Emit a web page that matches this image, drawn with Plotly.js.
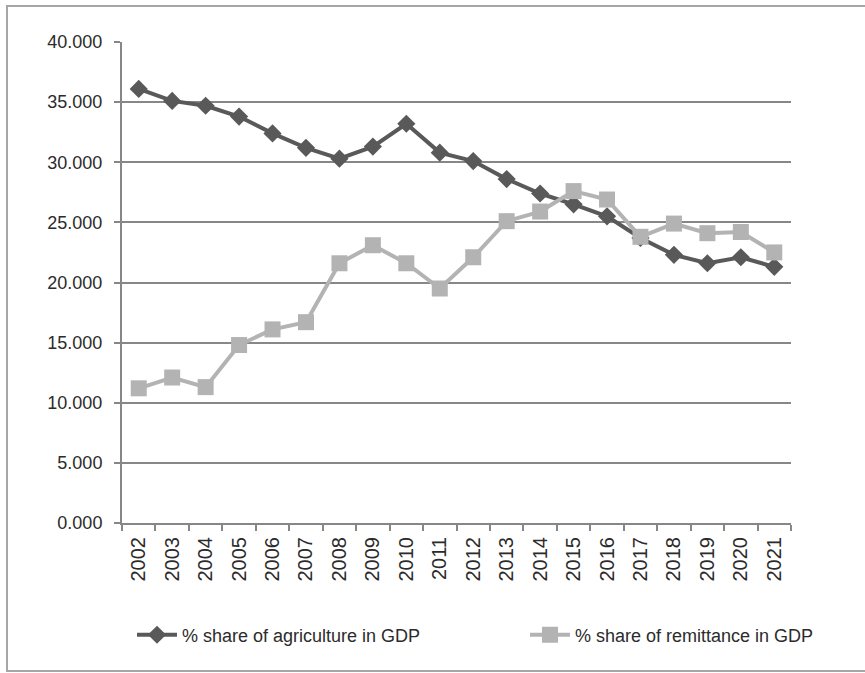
<!DOCTYPE html>
<html>
<head>
<meta charset="utf-8">
<script src="https://cdn.plot.ly/plotly-3.0.1.min.js"></script>
<style>
  html, body { margin: 0; padding: 0; background: #ffffff; }
  #chart { width: 865px; height: 673px; }
</style>
</head>
<body>
<div id="chart"></div>
<script>
const years = ["2002","2003","2004","2005","2006","2007","2008","2009","2010","2011",
               "2012","2013","2014","2015","2016","2017","2018","2019","2020","2021"];
const agricultureShare = [36.1, 35.1, 34.7, 33.8, 32.4, 31.2, 30.3, 31.3, 33.2, 30.8,
                          30.1, 28.6, 27.4, 26.5, 25.5, 23.7, 22.3, 21.6, 22.1, 21.3];
const remittanceShare = [11.2, 12.1, 11.3, 14.8, 16.1, 16.7, 21.6, 23.1, 21.6, 19.5,
                         22.1, 25.1, 25.9, 27.6, 26.9, 23.8, 24.9, 24.1, 24.2, 22.5];
const seriesNames = ["% share of agriculture in GDP", "% share of remittance in GDP"];
const yTickValues = [0, 5, 10, 15, 20, 25, 30, 35, 40];

const FONT = "'Liberation Sans', Arial, sans-serif";
const gridColor = "#878787";
const textColor = "#2b2b2b";

const traces = [
  {
    x: years, y: agricultureShare, name: seriesNames[0],
    type: "scatter", mode: "lines+markers", legend: "legend", cliponaxis: false,
    line: { color: "#595959", width: 4 },
    marker: { symbol: "diamond", size: 14, color: "#595959" }
  },
  {
    x: years, y: remittanceShare, name: seriesNames[1],
    type: "scatter", mode: "lines+markers", legend: "legend2", cliponaxis: false,
    line: { color: "#B3B3B3", width: 4 },
    marker: { symbol: "square", size: 16, color: "#B3B3B3" }
  }
];

const legendCommon = {
  orientation: "h", xanchor: "left", y: -0.233, yanchor: "middle",
  font: { family: FONT, size: 18, color: textColor },
  itemwidth: 40, bgcolor: "rgba(0,0,0,0)"
};

const layout = {
  width: 865, height: 673,
  margin: { l: 122, r: 74, t: 42, b: 150 },
  paper_bgcolor: "#ffffff", plot_bgcolor: "#ffffff",
  font: { family: FONT, size: 18, color: textColor },
  showlegend: true,
  legend: Object.assign({}, legendCommon, { x: (132 - 122) / 669 }),
  legend2: Object.assign({}, legendCommon, { x: (525 - 122) / 669 }),
  xaxis: {
    type: "category", categoryorder: "array", categoryarray: years,
    range: [-0.5, years.length - 0.5], autorange: false,
    tickangle: -90, tickson: "boundaries",
    ticks: "outside", ticklen: 6, tickwidth: 2, tickcolor: gridColor,
    showline: true, linecolor: gridColor, linewidth: 2,
    showgrid: false, zeroline: false,
    tickfont: { family: FONT, size: 20, color: textColor },
    ticklabelstandoff: 4
  },
  yaxis: {
    range: [0, 40], autorange: false, tickvals: yTickValues, tickformat: ".3f",
    ticks: "outside", ticklen: 6, tickwidth: 2, tickcolor: gridColor,
    showline: true, linecolor: gridColor, linewidth: 2,
    showgrid: true, gridcolor: gridColor, gridwidth: 2,
    zeroline: false,
    tickfont: { family: FONT, size: 18, color: textColor },
    ticklabelstandoff: 8
  },
  shapes: [
    {
      type: "rect", xref: "paper", yref: "paper", layer: "above",
      x0: (7 - 122) / 669, x1: (880 - 122) / 669,
      y0: (523 - 671) / 481, y1: (523 - 6) / 481,
      line: { color: "#A6A6A6", width: 2 }, fillcolor: "rgba(0,0,0,0)"
    }
  ]
};

Plotly.newPlot("chart", traces, layout, { displayModeBar: false, staticPlot: true });
</script>
</body>
</html>
